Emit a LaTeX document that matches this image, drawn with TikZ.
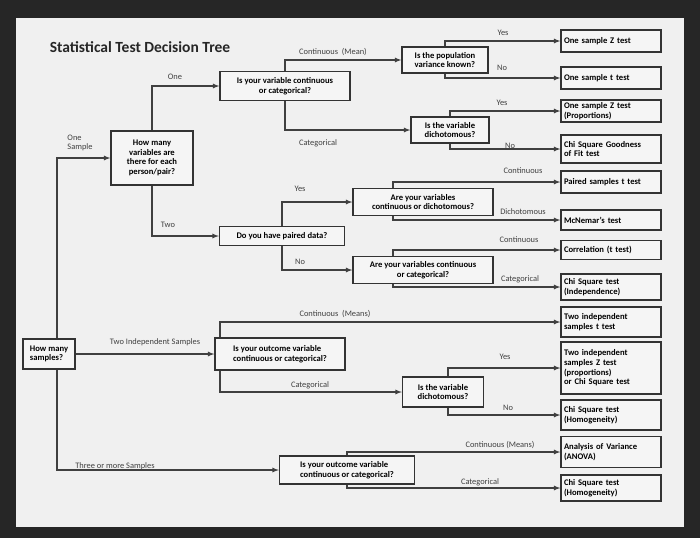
\documentclass[tikz,border=0pt]{standalone}
\usepackage{fontspec}
\setmainfont{Carlito}
\begin{document}
\begin{tikzpicture}[x=1pt,y=-1pt,
 box/.style={draw=black!80,line width=1.3pt,fill=white!92!gray,font=\bfseries\fontsize{8.6}{9.6}\selectfont,align=center,inner sep=2pt},
 res/.style={box,minimum width=100pt,align=left,text width=94pt},
 arr/.style={draw=black!75,line width=1.2pt,-latex},
 lbl/.style={font=\fontsize{8.4}{9.4}\selectfont,text=black!75}]
\fill[black!85] (0,0) rectangle (700,538);
\useasboundingbox (0,0) rectangle (700,538);
\fill[gray!12] (16,18) rectangle (684,527);
\node[font=\bfseries\fontsize{15.5}{17}\selectfont,text=black!85] (title) at (140,47) {Statistical Test Decision Tree};
% questions
\node[box,minimum width=52pt,minimum height=30pt,align=left] (hm) at (49,354) {How many\\samples?};
\node[box,minimum width=82pt,minimum height=54pt] (hv) at (152,158) {How many\\variables are\\there for each\\person/pair?};
\node[box,minimum width=130pt,minimum height=29pt] (q1) at (285,86) {Is your variable continuous\\or categorical?};
\node[box,minimum width=86pt,minimum height=26pt,align=left] (pv) at (445,60) {Is the population\\variance known?};
\node[box,minimum width=78pt,minimum height=26pt] (d1) at (450,130) {Is the variable\\dichotomous?};
\node[box,minimum width=125pt,minimum height=19pt] (pd) at (282,236) {Do you have paired data?};
\node[box,minimum width=140pt,minimum height=27pt] (cd) at (423,202) {Are your variables\\continuous or dichotomous?};
\node[box,minimum width=140pt,minimum height=27pt] (cc) at (423,270) {Are your variables continuous\\or categorical?};
\node[box,minimum width=130pt,minimum height=32pt,align=left] (o2) at (280,354) {Is your outcome variable\\continuous or categorical?};
\node[box,minimum width=81pt,minimum height=30pt] (d2) at (443,392) {Is the variable\\dichotomous?};
\node[box,minimum width=135pt,minimum height=28pt,align=left] (o3) at (347,470) {Is your outcome variable\\continuous or categorical?};
% results
\node[res,minimum height=22pt] (r1) at (611,41) {One sample Z test};
\node[res,minimum height=22pt] (r2) at (611,78) {One sample t test};
\node[res,minimum height=22pt] (r3) at (611,111) {One sample Z test\\(Proportions)};
\node[res,minimum height=28pt] (r4) at (611,149) {Chi Square Goodness\\of Fit test};
\node[res,minimum height=22pt] (r5) at (611,182) {Paired samples t test};
\node[res,minimum height=20pt] (r6) at (611,220) {McNemar's test};
\node[res,minimum height=19pt] (r7) at (611,250) {Correlation (t test)};
\node[res,minimum height=26pt] (r8) at (611,287) {Chi Square test\\(Independence)};
\node[res,minimum height=30pt] (r9) at (611,322) {Two independent\\samples t test};
\node[res,minimum height=52pt] (r10) at (611,368) {Two independent\\samples Z test\\(proportions)\\or Chi Square test};
\node[res,minimum height=30pt] (r11) at (611,415) {Chi Square test\\(Homogeneity)};
\node[res,minimum height=31pt] (r12) at (611,452) {Analysis of Variance\\(ANOVA)};
\node[res,minimum height=26pt] (r13) at (611,488) {Chi Square test\\(Homogeneity)};
% connectors
\draw[arr] ([xshift=8pt]hm.north) |- (hv.west);
\draw[arr] (hm.east) -- (o2.west);
\draw[arr] ([xshift=8pt]hm.south) |- (o3.west);
\draw[arr] (hv.north) |- (q1.west);
\draw[arr] (hv.south) |- (pd.west);
\draw[arr] (q1.north) |- (pv.west);
\draw[arr] (q1.south) |- (d1.west);
\draw[arr] (pv.north) |- (r1.west);
\draw[arr] (pv.south) |- (r2.west);
\draw[arr] (d1.north) |- (r3.west);
\draw[arr] (d1.south) |- (r4.west);
\draw[arr] (pd.north) |- (cd.west);
\draw[arr] (pd.south) |- (cc.west);
\draw[arr] ([xshift=-30pt]cd.north) |- (r5.west);
\draw[arr] ([xshift=-30pt]cd.south) |- (r6.west);
\draw[arr] ([xshift=-30pt]cc.north) |- (r7.west);
\draw[arr] ([xshift=-30pt]cc.south) |- (r8.west);
\draw[arr] ([xshift=-60pt]o2.north) |- (r9.west);
\draw[arr] ([xshift=-60pt]o2.south) |- (d2.west);
\draw[arr] ([xshift=5pt]d2.north) |- (r10.west);
\draw[arr] ([xshift=5pt]d2.south) |- (r11.west);
\draw[arr] (o3.north) |- (r12.west);
\draw[arr] (o3.south) |- (r13.west);
% labels
\node[lbl] (l1) at (175,77) {One};
\node[lbl,align=left] (l2) at (80,143) {One\\Sample};
\node[lbl] (l3) at (168,225) {Two};
\node[lbl] (l4) at (333,52) {Continuous\ \ (Mean)};
\node[lbl] (l5) at (318,143) {Categorical};
\node[lbl] (l6) at (503,33) {Yes};
\node[lbl] (l7) at (502,68) {No};
\node[lbl] (l8) at (502,103) {Yes};
\node[lbl] (l9) at (510,146) {No};
\node[lbl] (l10) at (300,189) {Yes};
\node[lbl] (l11) at (300,262) {No};
\node[lbl] (l12) at (523,171) {Continuous};
\node[lbl] (l13) at (523,212) {Dichotomous};
\node[lbl] (l14) at (519,240) {Continuous};
\node[lbl] (l15) at (520,279) {Categorical};
\node[lbl] (l16) at (155,342) {Two Independent Samples};
\node[lbl] (l17) at (335,314) {Continuous\ \ (Means)};
\node[lbl] (l18) at (310,385) {Categorical};
\node[lbl] (l19) at (505,357) {Yes};
\node[lbl] (l20) at (508,408) {No};
\node[lbl] (l21) at (115,466) {Three or more Samples};
\node[lbl] (l22) at (500,445) {Continuous (Means)};
\node[lbl] (l23) at (480,482) {Categorical};
\end{tikzpicture}
\end{document}
